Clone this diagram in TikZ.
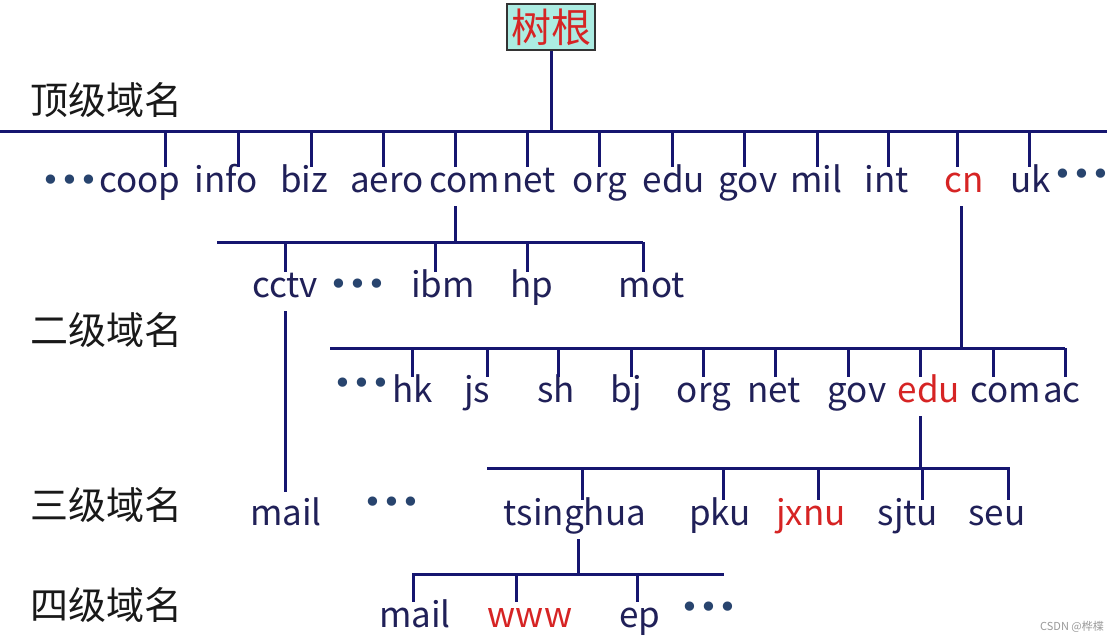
\documentclass[tikz,border=0pt]{standalone}
\usepackage{fontspec}
\setmainfont{Noto Sans CJK SC}
\newfontfamily\dotfont{DejaVu Sans}
\usepackage{tikz}
\definecolor{lineblue}{RGB}{22,22,112}
\definecolor{textblue}{RGB}{32,32,88}
\definecolor{dotblue}{RGB}{40,68,110}
\definecolor{rootred}{RGB}{214,36,36}
\definecolor{rootfill}{RGB}{172,236,226}
\tikzstyle{dom}=[inner sep=0pt,anchor=base,text height=25pt,text depth=8pt,text=textblue,font=\fontsize{35}{40}\selectfont]
\tikzstyle{hot}=[dom,text=rootred]
\tikzstyle{level}=[inner sep=0pt,anchor=west,text=black!90,font=\fontsize{38}{44}\selectfont]
\tikzstyle{more}=[inner sep=0pt,text=dotblue,font=\dotfont\fontsize{32}{32}\selectfont]
\tikzstyle{edge} = [draw,line width=3pt,lineblue]
\newcommand{\ddd}{•\kern0.5pt•\kern0.5pt•}

\begin{document}
\begin{tikzpicture}[x=1pt,y=-1pt]
        \useasboundingbox (0,0) rectangle (1111,642);
        \tikzset{drop/.style = {edge,shorten <=6pt}}
        \node[draw=black!80,fill=rootfill,line width=2pt,minimum width=88,minimum height=46,inner sep=0pt,text=rootred,font=\fontsize{40}{46}\selectfont] (root) at (551,27) {树根};
        \node[level] (lv1) at (30,100) {顶级域名};
        \node[level] (lv2) at (30,330) {二级域名};
        \node[level] (lv3) at (30,505) {三级域名};
        \node[level] (lv4) at (30,605) {四级域名};
        % top level
        \node[more] (more1) at (70,183) {\ddd};
        \node[dom] (coop) at (140,192) {coop};
        \node[dom] (info) at (226,192) {info};
        \node[dom] (biz) at (304,192) {biz};
        \node[dom] (aero) at (387,192) {aero};
        \node[dom] (com) at (465,192) {com};
        \node[dom] (net) at (529,192) {net};
        \node[dom] (org) at (600,192) {org};
        \node[dom] (edu) at (674,192) {edu};
        \node[dom] (gov) at (748,192) {gov};
        \node[dom] (mil) at (816,192) {mil};
        \node[dom] (int) at (887,192) {int};
        \node[hot] (cn) at (964,192) {cn};
        \node[dom] (uk) at (1031,192) {uk};
        \node[more] (more2) at (1082,177) {\ddd};
        % second level
        \node[dom] (cctv) at (285,297) {cctv};
        \node[more] (more3) at (358,287) {\ddd};
        \node[dom] (ibm) at (443,297) {ibm};
        \node[dom] (hp) at (532,297) {hp};
        \node[dom] (mot) at (652,297) {mot};
        \node[more] (more4) at (362,386) {\ddd};
        \node[dom] (hk) at (413,402) {hk};
        \node[dom] (js) at (477,402) {js};
        \node[dom] (sh) at (556,402) {sh};
        \node[dom] (bj) at (626,402) {bj};
        \node[dom] (cnorg) at (704,402) {org};
        \node[dom] (cnnet) at (774,402) {net};
        \node[dom] (cngov) at (857,402) {gov};
        \node[hot] (cnedu) at (929,402) {edu};
        \node[dom] (cncom) at (1006,402) {com};
        \node[dom] (ac) at (1062,402) {ac};
        % third level
        \node[dom] (mail) at (286,525) {mail};
        \node[more] (more5) at (392,505) {\ddd};
        \node[dom] (tsinghua) at (575,525) {tsinghua};
        \node[dom] (pku) at (720,525) {pku};
        \node[hot] (jxnu) at (811,525) {jxnu};
        \node[dom] (sjtu) at (908,525) {sjtu};
        \node[dom] (seu) at (997,525) {seu};
        % fourth level
        \node[dom] (tsmail) at (415,627) {mail};
        \node[hot] (www) at (530,627) {www};
        \node[dom] (ep) at (640,627) {ep};
        \node[more] (more6) at (709,610) {\ddd};
        \node[text=black!40,inner sep=0pt,font=\fontsize{11}{13}\selectfont] (mark) at (1072,627) {CSDN @桦楪};
        % buses
        \coordinate (top-l) at (0,131);
        \coordinate (top-r) at (1107,131);
        \coordinate (com-l) at (217,242);
        \coordinate (com-r) at (643,242);
        \coordinate (cn-l) at (330,348);
        \coordinate (cn-r) at (1065,348);
        \coordinate (cn-j) at (961,348);
        \coordinate (edu-l) at (487,468);
        \coordinate (edu-r) at (1010,468);
        \coordinate (ts-l) at (412,574);
        \coordinate (ts-r) at (724,574);
        \coordinate (ts-j) at (578,574);
        \draw[edge] (top-l) -- (top-r);
        \draw[edge] (com-l) -- (com-r);
        \draw[edge] (cn-l) -- (cn-r);
        \draw[edge] (edu-l) -- (edu-r);
        \draw[edge] (ts-l) -- (ts-r);
        \draw[edge] (root) -- (root |- top-l);
        \foreach \n/\x in {coop/165,info/238,biz/311,aero/383,com/455,net/527,org/599,edu/672,gov/744,mil/817,int/888,cn/957,uk/1029}{
          \coordinate (\n-t) at (\x,131);
          \draw[edge] (\n-t) -- (\n-t |- \n.north);
        }
        \foreach \n/\x in {cctv/285,ibm/435,hp/527,mot/643}{
          \coordinate (\n-t) at (\x,242);
          \draw[edge] (\n-t) -- (\n-t |- \n.north);
        }
        \foreach \n/\x in {hk/412,js/487,sh/558,bj/631,cnorg/703,cnnet/775,cngov/848,cnedu/920,cncom/993,ac/1065}{
          \coordinate (\n-t) at (\x,348);
          \draw[edge] (\n-t) -- (\n-t |- \n.north);
        }
        \foreach \n/\x in {tsinghua/582,pku/723,jxnu/818,sjtu/922,seu/1008}{
          \coordinate (\n-t) at (\x,468);
          \draw[edge] (\n-t) -- (\n-t |- \n.north);
        }
        \foreach \n/\x in {tsmail/413,www/516,ep/637}{
          \coordinate (\n-t) at (\x,574);
          \draw[edge] (\n-t) -- (\n-t |- \n.north);
        }
        \draw[drop] (com-t |- com.south) -- (com-t |- com-l);
        \draw[drop] (cn-j |- cn.south) -- (cn-j);
        \draw[drop] (cnedu-t |- cnedu.south) -- (cnedu-t |- edu-l);
        \draw[drop] (ts-j |- tsinghua.south) -- (ts-j);
        \draw[drop,shorten >=8pt] (cctv-t |- cctv.south) -- (cctv-t |- mail.north);
      \end{tikzpicture}
\end{document}
